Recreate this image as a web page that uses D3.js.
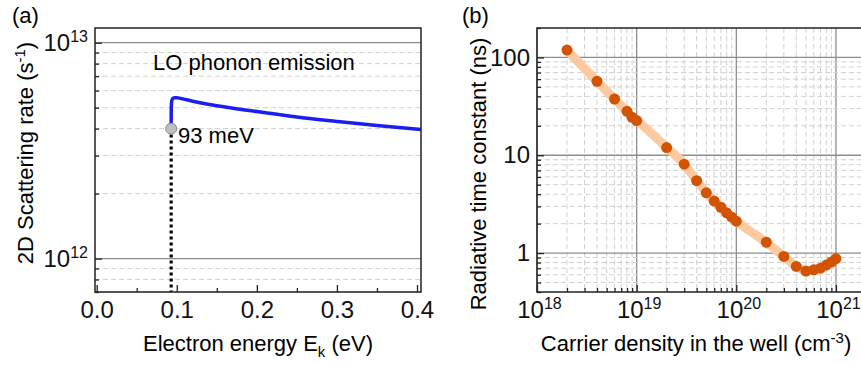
<!DOCTYPE html>
<html>
<head>
<meta charset="utf-8">
<script src="https://cdn.jsdelivr.net/npm/d3@7"></script>
<style>
  body { margin: 0; background: #fff; }
  svg { display: block; font-family: "Liberation Sans", Arial, sans-serif; }
</style>
</head>
<body>
<div id="chart"></div>
<script>
// (a) LO phonon emission rate vs electron energy
const energyEv = [0.093, 0.0931, 0.0934, 0.094, 0.0952, 0.0975, 0.1, 0.105, 0.12, 0.15, 0.2, 0.25, 0.3, 0.35, 0.405];
const scatterRate = [4.0e12, 4.9e12, 5.25e12, 5.42e12, 5.52e12, 5.56e12, 5.56e12, 5.52e12, 5.36e12, 5.1e12, 4.8e12, 4.53e12, 4.32e12, 4.13e12, 3.96e12];
const thresholdEv = 0.093;
const thresholdRate = 4.0e12;
const energyTicks = [0, 0.1, 0.2, 0.3, 0.4];
const energyMinorTicks = [0.05, 0.15, 0.25, 0.35];
const rateTicks = [1e12, 1e13];

// (b) radiative time constant vs carrier density
const densityCm3 = [2e18, 4e18, 6e18, 8e18, 9e18, 1e19, 2e19, 3e19, 4e19, 5e19, 6e19, 7e19, 8e19, 9e19,
                    1e20, 2e20, 3e20, 4e20, 5e20, 6e20, 7e20, 8e20, 9e20, 1e21];
const tauNs = [119, 57, 37.6, 28.1, 24.4, 22.6, 12.0, 8.1, 5.5, 4.13, 3.4, 2.94, 2.58, 2.33,
               2.12, 1.29, 0.925, 0.73, 0.655, 0.675, 0.70, 0.755, 0.81, 0.877];
const densityTicks = [1e18, 1e19, 1e20, 1e21];
const tauTicks = [1, 10, 100];

const width = 861, height = 365;
const fontSize = 22;
const tickFontSize = 24;

const svg = d3.select('#chart').append('svg')
    .attr('width', width)
    .attr('height', height);

const boxA = {left: 95, right: 421, top: 28, bottom: 292};
const boxB = {left: 537, right: 872, top: 28, bottom: 292};

const xA = d3.scaleLinear().domain([-0.0021, 0.405]).range([boxA.left, boxA.right]);
const yA = d3.scaleLog().domain([7e11, 1.17e13]).range([boxA.bottom, boxA.top]);
const xB = d3.scaleLog().domain([1e18, 2.3e21]).range([boxB.left, boxB.right]);
const yB = d3.scaleLog().domain([0.4, 200]).range([boxB.bottom, boxB.top]);

const isDecade = v => Math.abs(Math.log10(v) - Math.round(Math.log10(v))) < 1e-6;

function gridLine(g, x1, y1, x2, y2, major) {
    g.append('line')
        .attr('x1', x1).attr('y1', y1).attr('x2', x2).attr('y2', y2)
        .attr('stroke', major ? '#8d8d8d' : '#d0d0d0')
        .attr('stroke-width', major ? 1.3 : 1)
        .attr('stroke-dasharray', major ? null : '5,3');
}

function powerLabels(axisG) {
    axisG.selectAll('.tick text').each(function(d) {
        const t = d3.select(this);
        t.text('10');
        t.append('tspan')
            .attr('dy', '-0.55em')
            .style('font-size', '16px')
            .text(Math.round(Math.log10(d)));
    });
}

function styleAxis(g) {
    g.select('.domain').remove();
    g.attr('font-size', tickFontSize).attr('font-family', null);
    g.selectAll('.tick line').attr('stroke', '#222').attr('stroke-width', 1.3);
    g.selectAll('.tick text').attr('fill', '#111');
}

// ---------- panel (a) ----------
const gA = svg.append('g');

const gridA = gA.append('g');
yA.ticks().forEach(v => {
    if (v > yA.domain()[1]) return;
    gridLine(gridA, boxA.left, yA(v), boxA.right, yA(v), isDecade(v));
});

// dotted threshold line
gA.append('line')
    .attr('x1', xA(thresholdEv)).attr('x2', xA(thresholdEv))
    .attr('y1', yA(thresholdRate)).attr('y2', boxA.bottom)
    .attr('stroke', '#000')
    .attr('stroke-width', 3.2)
    .attr('stroke-dasharray', '3,3');

const rateLine = d3.line()
    .x((d, i) => xA(energyEv[i]))
    .y(d => yA(d))
    .curve(d3.curveMonotoneX);

gA.append('path')
    .attr('d', rateLine(scatterRate))
    .attr('fill', 'none')
    .attr('stroke', '#1d1df2')
    .attr('stroke-width', 3.5);

gA.append('circle')
    .attr('cx', xA(thresholdEv))
    .attr('cy', yA(thresholdRate))
    .attr('r', 5.5)
    .attr('fill', '#bfbfbf')
    .attr('stroke', '#8a8a8a');

gA.append('rect')
    .attr('x', boxA.left).attr('y', boxA.top)
    .attr('width', boxA.right - boxA.left).attr('height', boxA.bottom - boxA.top)
    .attr('fill', 'none').attr('stroke', '#222').attr('stroke-width', 1.5);

gA.append('g')
    .attr('transform', `translate(0,${boxA.bottom})`)
    .call(d3.axisBottom(xA).tickValues(energyTicks).tickSize(-7).tickPadding(9).tickFormat(d3.format('.1f')))
    .call(styleAxis);

gA.append('g')
    .attr('transform', `translate(0,${boxA.bottom})`)
    .call(d3.axisBottom(xA).tickValues(energyMinorTicks).tickSize(-4).tickFormat(''))
    .call(styleAxis);

gA.append('g')
    .attr('transform', `translate(${boxA.left},0)`)
    .call(d3.axisLeft(yA).tickValues(rateTicks).tickSize(-7).tickPadding(7))
    .call(styleAxis)
    .call(powerLabels);

gA.append('g')
    .attr('transform', `translate(${boxA.left},0)`)
    .call(d3.axisLeft(yA).tickValues(yA.ticks().filter(v => !isDecade(v))).tickSize(-4).tickFormat(''))
    .call(styleAxis);

gA.append('text')
    .attr('x', 153).attr('y', 70)
    .attr('font-size', fontSize)
    .text('LO phonon emission');

gA.append('text')
    .attr('x', 178).attr('y', 143)
    .attr('font-size', fontSize)
    .text('93 meV');

const titleAx = gA.append('text')
    .attr('x', (boxA.left + boxA.right) / 2).attr('y', 351)
    .attr('text-anchor', 'middle')
    .attr('font-size', fontSize);
titleAx.append('tspan').text('Electron energy E');
titleAx.append('tspan').attr('dy', 6).style('font-size', '15px').text('k');
titleAx.append('tspan').attr('dy', -6).text(' (eV)');

const titleAy = gA.append('text')
    .attr('transform', 'translate(33,153) rotate(-90)')
    .attr('text-anchor', 'middle')
    .attr('font-size', fontSize);
titleAy.append('tspan').text('2D Scattering rate (s');
titleAy.append('tspan').attr('dy', -8).style('font-size', '15px').text('-1');
titleAy.append('tspan').attr('dy', 8).text(')');

gA.append('text')
    .attr('x', 12).attr('y', 23)
    .attr('font-size', fontSize)
    .text('(a)');

// ---------- panel (b) ----------
const gB = svg.append('g');

const gridB = gB.append('g');
xB.ticks().forEach(v => {
    gridLine(gridB, xB(v), boxB.top, xB(v), boxB.bottom, isDecade(v));
});
yB.ticks().forEach(v => {
    if (v >= yB.domain()[1] || v <= yB.domain()[0]) return;
    gridLine(gridB, boxB.left, yB(v), boxB.right, yB(v), isDecade(v));
});

const tauLine = d3.line()
    .x((d, i) => xB(densityCm3[i]))
    .y(d => yB(d))
    .curve(d3.curveMonotoneX);

gB.append('path')
    .attr('d', tauLine(tauNs))
    .attr('fill', 'none')
    .attr('stroke', '#fdc9a1')
    .attr('stroke-width', 9)
    .attr('stroke-linecap', 'round');

gB.selectAll('circle.pt')
    .data(tauNs)
    .enter()
    .append('circle')
    .attr('class', 'pt')
    .attr('cx', (d, i) => xB(densityCm3[i]))
    .attr('cy', d => yB(d))
    .attr('r', 5.5)
    .attr('fill', '#d35400');

gB.append('rect')
    .attr('x', boxB.left).attr('y', boxB.top)
    .attr('width', boxB.right - boxB.left).attr('height', boxB.bottom - boxB.top)
    .attr('fill', 'none').attr('stroke', '#222').attr('stroke-width', 1.5);

gB.append('g')
    .attr('transform', `translate(0,${boxB.bottom})`)
    .call(d3.axisBottom(xB).tickValues(densityTicks).tickSize(-7).tickPadding(9))
    .call(styleAxis)
    .call(powerLabels)
    .call(g => g.selectAll('.tick text').attr('dx', 2));

gB.append('g')
    .attr('transform', `translate(0,${boxB.bottom})`)
    .call(d3.axisBottom(xB).tickValues(xB.ticks().filter(v => !isDecade(v))).tickSize(-4).tickFormat(''))
    .call(styleAxis);

gB.append('g')
    .attr('transform', `translate(${boxB.left},0)`)
    .call(d3.axisLeft(yB).tickValues(tauTicks).tickSize(-7).tickPadding(7).tickFormat(d3.format('d')))
    .call(styleAxis);

gB.append('g')
    .attr('transform', `translate(${boxB.left},0)`)
    .call(d3.axisLeft(yB).tickValues(yB.ticks().filter(v => !isDecade(v))).tickSize(-4).tickFormat(''))
    .call(styleAxis);

const titleBx = gB.append('text')
    .attr('x', 696).attr('y', 351)
    .attr('text-anchor', 'middle')
    .attr('font-size', fontSize);
titleBx.append('tspan').text('Carrier density in the well (cm');
titleBx.append('tspan').attr('dy', -8).style('font-size', '15px').text('-3');
titleBx.append('tspan').attr('dy', 8).text(')');

gB.append('text')
    .attr('transform', 'translate(486,174) rotate(-90)')
    .attr('text-anchor', 'middle')
    .attr('font-size', fontSize)
    .text('Radiative time constant (ns)');

gB.append('text')
    .attr('x', 462).attr('y', 23)
    .attr('font-size', fontSize)
    .text('(b)');
</script>
</body>
</html>
